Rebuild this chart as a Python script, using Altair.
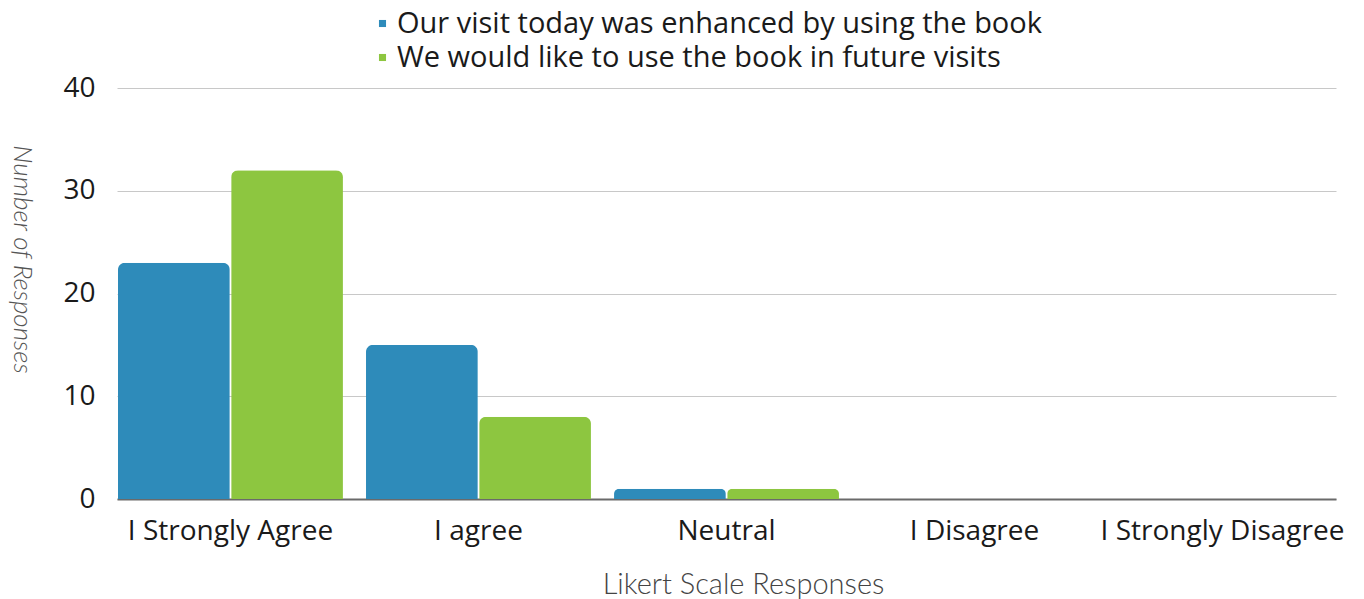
import altair as alt
import pandas as pd

categories = ["I Strongly Agree", "I agree", "Neutral", "I Disagree", "I Strongly Disagree"]
series = ["Our visit today was enhanced by using the book", "We would like to use the book in future visits"]
enhanced = [23, 15, 1, 0, 0]
future = [32, 8, 1, 0, 0]
colors = ["#2E8BBA", "#8DC640"]

rows = []
for c, a, b in zip(categories, enhanced, future):
    rows.append({"cat": c, "series": series[0], "value": a})
    rows.append({"cat": c, "series": series[1], "value": b})
df = pd.DataFrame(rows)

FONT = "Open Sans"

chart = alt.Chart(df).mark_bar(
    cornerRadiusTopLeft=7, cornerRadiusTopRight=7
).encode(
    x=alt.X("cat:N", sort=categories,
            scale=alt.Scale(paddingInner=0.093, paddingOuter=0.004),
            axis=alt.Axis(title="Likert Scale Responses", labelAngle=0,
                          labelFontSize=28, labelColor="#1a1a1a", labelFont=FONT,
                          labelPadding=18, labelLimit=1000, ticks=False,
                          domainColor="#6a6a6a",
                          domainWidth=2, titleFont="Lato", titleFontWeight=300,
                          titleFontSize=29, titleColor="#444444",
                          titleX=626, titleY=94, titleAnchor="middle",
                          titleAlign="center", titleBaseline="alphabetic")),
    xOffset=alt.XOffset("series:N", sort=series,
                        scale=alt.Scale(paddingInner=0.012, paddingOuter=0)),
    y=alt.Y("value:Q", scale=alt.Scale(domain=[0, 40]),
            axis=alt.Axis(title="Number of Responses", values=[0, 10, 20, 30, 40],
                          labelFontSize=28, labelColor="#1a1a1a", labelFont=FONT,
                          labelPadding=22, ticks=False, domain=False,
                          gridColor="#c8c8c8", gridWidth=1,
                          titleFont="Lato", titleFontStyle="italic", titleFontWeight=300,
                          titleFontSize=26, titleColor="#555555",
                          titleAngle=90, titleX=-96, titleY=171,
                          titleAlign="center", titleBaseline="middle")),
    color=alt.Color("series:N", sort=series,
                    scale=alt.Scale(domain=series, range=colors),
                    legend=alt.Legend(title=None, orient="none", legendX=251, legendY=-79,
                                      symbolType="square", symbolSize=50,
                                      symbolStrokeWidth=0,
                                      labelFontSize=29, labelFont=FONT,
                                      labelColor="#1a1a1a", rowPadding=4,
                                      labelOffset=0, labelLimit=1000)),
).properties(
    width=1219, height=411,
    autosize=alt.AutoSizeParams(type="none"),
    padding={"left": 109, "top": 80, "right": 20, "bottom": 100},
).configure_view(stroke=None)

chart.save("out.html", embed_options={"renderer": "svg", "actions": False})
